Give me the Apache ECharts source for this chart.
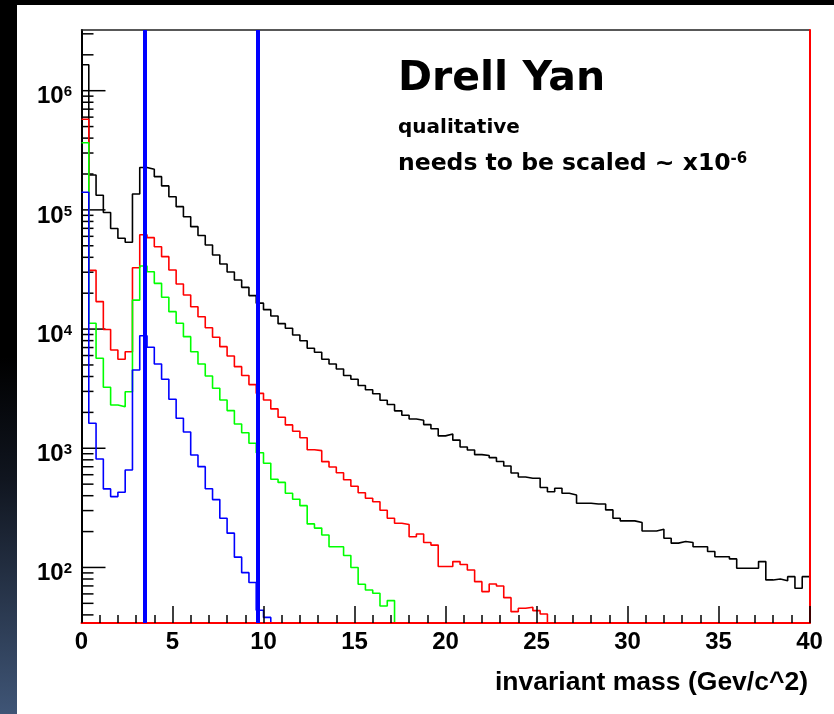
<!DOCTYPE html>
<html>
<head>
<meta charset="utf-8">
<script src="https://cdn.jsdelivr.net/npm/echarts@6/dist/echarts.min.js"></script>
<style>
html,body{margin:0;padding:0;width:834px;height:714px;overflow:hidden;
  background:linear-gradient(to bottom,#000 0%,#000 50%,#10151f 67%,#3f5576 100%);}
#frame{position:absolute;left:17px;top:5px;width:817px;height:709px;background:#fff;}
#c{width:817px;height:709px;}
</style>
</head>
<body>
<div id="frame"><div id="c"></div></div>
<script>
// ---------- data (counts per bin, 100 bins of 0.4 between 0 and 40) ----------
const nBins = 100;
const binWidth = 0.4;
const xMin = 0, xMax = 40;
const yMin = 34.2, yMax = 3.23e6;
const cutLines = [3.48, 9.67];

const blackCounts = [
  1.65e6, 1.96e5, 1.326e5, 9.51e4, 6.98e4, 5.78e4, 5.35e4, 1.36e5, 2.27e5, 2.19e5,
  1.90e5, 1.59e5, 1.29e5, 1.064e5, 8.77e4, 7.23e4, 6.10e4, 5.08e4, 4.18e4, 3.52e4,
  3.01e4, 2.58e4, 2.24e4, 1.91e4, 1.65e4, 1.455e4, 1.288e4, 1.110e4, 1.016e4, 8920,
  7990, 6900, 6390, 5580, 5100, 4630, 4080, 3790, 3360, 3100,
  2870, 2530, 2330, 2060, 1890, 1760, 1720, 1580, 1460, 1270,
  1320, 1170, 1025, 968, 884, 870, 834, 775, 710, 621,
  574, 560, 560, 469, 432, 462, 419, 406, 346, 346,
  341, 341, 304, 259, 246, 246, 238, 202, 202, 209,
  176, 160, 165, 162, 149, 149, 136, 123, 123, 118,
  98.5, 98.5, 98.5, 112, 78.6, 80.1, 77.5, 83.7, 66.9, 83.7
];
// bins after the listed ones are empty
const redCounts = [
  5.76e5, 3.11e4, 1.70e4, 9920, 6680, 5580, 6460, 3.27e4, 6.19e4, 5.85e4,
  4.91e4, 4.05e4, 3.13e4, 2.39e4, 1.93e4, 1.54e4, 1.27e4, 1.027e4, 8540, 7120,
  5950, 4840, 4080, 3420, 2890, 2540, 2140, 1820, 1570, 1390,
  1227, 973, 955, 772, 697, 623, 545, 480, 423, 381,
  356, 302, 259, 235, 229, 181, 191, 162, 154, 102,
  102, 112, 106, 95.3, 76.0, 62.7, 72.7, 69.9, 55.8, 42.6,
  45.5, 46.4, 43.4, 40.7
];
const greenCounts = [
  3.66e5, 1.119e4, 5690, 3250, 2310, 2230, 2980, 1.75e4, 3.38e4, 3.03e4,
  2.42e4, 1.85e4, 1.40e4, 1.119e4, 8640, 6460, 5100, 4040, 3190, 2540,
  2070, 1600, 1350, 1101, 917, 749, 549, 517, 419, 373,
  330, 232, 214, 187, 149, 149, 126, 100, 72.3, 64.7,
  60.8, 47.5, 52.7
];
const blueCounts = [
  1.405e5, 1620, 813, 456, 393, 428, 658, 4540, 8800, 7040,
  5100, 3790, 2580, 1785, 1370, 879, 701, 458, 371, 259,
  194, 122, 90.5, 74.8, 43.7, 38.1
];
const xTickLabels = ['0','5','10','15','20','25','30','35','40'];

// ---------- helpers ----------
const FONT = '"Liberation Sans", Arial, Helvetica, sans-serif';
function histData(counts) {
  const pts = [];
  for (let i = 0; i < nBins; i++) {
    const c = i < counts.length ? counts[i] : 0;
    pts.push([xMin + i * binWidth, c > 0 ? c : yMin]);
  }
  pts.push([xMax, pts[pts.length - 1][1]]);
  return pts;
}
// y tick positions generated from the log axis decades
const yTicks = [];
for (let n = 1; n <= 6; n++) {
  for (let k = 1; k <= 9; k++) {
    const v = k * Math.pow(10, n);
    if (v >= yMin && v <= yMax) yTicks.push([xMin, v, k === 1 ? 1 : 0]);
  }
}

function histSeries(name, counts, color) {
  return {
    name, type: 'line', data: histData(counts), step: 'end',
    showSymbol: false, symbol: 'none', clip: true,
    lineStyle: { color, width: 1.6 }, itemStyle: { color },
    animation: false, silent: true
  };
}

const chart = echarts.init(document.getElementById('c'), null, { width: 817, height: 709 });
chart.setOption({
  backgroundColor: '#fff',
  animation: false,
  grid: { left: 64.5, right: 24.5, top: 25, bottom: 91, containLabel: false },
  xAxis: [{
    type: 'value', min: xMin, max: xMax, interval: 5, position: 'bottom', z: 4,
    axisLine: { show: true, onZero: false, lineStyle: { color: '#ff0000', width: 2 } },
    axisTick: { show: true, inside: true, length: 17, lineStyle: { color: '#000', width: 1.5 } },
    minorTick: { show: true, splitNumber: 5, length: 8, lineStyle: { color: '#000', width: 1.5 } },
    axisLabel: {
      margin: 7, fontSize: 24, fontWeight: 'bold', fontFamily: FONT, color: '#000',
      formatter: v => xTickLabels[Math.round(v / 5)] ?? ''
    },
    splitLine: { show: false }
  }, {
    type: 'value', min: xMin, max: xMax, position: 'top',
    axisLine: { show: true, onZero: false, lineStyle: { color: '#222', width: 1.5 } },
    axisTick: { show: false }, axisLabel: { show: false }, splitLine: { show: false }
  }],
  yAxis: [{
    type: 'log', logBase: 10, min: yMin, max: yMax, position: 'left',
    axisLine: { show: true, onZero: false, lineStyle: { color: '#000', width: 2 } },
    axisTick: { show: false },
    axisLabel: {
      margin: 9.5, padding: [12, 0, 0, 0],
      formatter: function (v) {
        const e = Math.log10(v), r = Math.round(e);
        if (Math.abs(e - r) > 1e-6) return '';
        return '{b|10}{s|' + r + '}';
      },
      rich: {
        b: { fontSize: 24, fontWeight: 'bold', fontFamily: FONT, color: '#000' },
        s: { fontSize: 15, fontWeight: 'bold', fontFamily: FONT, color: '#000', verticalAlign: 'top' }
      }
    },
    splitLine: { show: false }
  }, {
    type: 'log', logBase: 10, min: yMin, max: yMax, position: 'right', z: 4,
    axisLine: { show: true, onZero: false, lineStyle: { color: '#ff0000', width: 2 } },
    axisTick: { show: false }, axisLabel: { show: false }, splitLine: { show: false }
  }],
  series: [
    {
      type: 'custom', name: 'yticks', data: yTicks, encode: { x: 0, y: 1 },
      clip: false, silent: true, z: 1,
      renderItem: function (params, api) {
        const p = api.coord([api.value(0), api.value(1)]);
        const len = api.value(2) ? 24 : 12;
        return { type: 'line', shape: { x1: p[0], y1: p[1], x2: p[0] + len, y2: p[1] },
                 style: { stroke: '#000', lineWidth: 1.5 } };
      }
    },
    histSeries('all', blackCounts, '#000000'),
    histSeries('red', redCounts, '#ff0000'),
    histSeries('green', greenCounts, '#00ff00'),
    histSeries('blue', blueCounts, '#0000ff'),
    {
      type: 'line', name: 'cuts', data: [], z: 10, silent: true,
      markLine: {
        silent: true, symbol: 'none', animation: false,
        label: { show: false },
        lineStyle: { color: '#0000ff', width: 4, type: 'solid' },
        data: cutLines.map(v => ({ xAxis: v }))
      }
    }
  ],
  graphic: [
    { type: 'text', x: 381, y: 74, z: 100, silent: true,
      style: { text: 'Drell Yan', font: 'bold 41px "DejaVu Sans", sans-serif', fill: '#000', textVerticalAlign: 'middle' } },
    { type: 'text', x: 381, y: 122.5, z: 100, silent: true,
      style: { text: 'qualitative', font: 'bold 20px "DejaVu Sans", sans-serif', fill: '#000', textVerticalAlign: 'middle' } },
    { type: 'text', x: 381, y: 159, z: 100, silent: true,
      style: {
        text: '{n|needs to be scaled ~ x10}{s|-6}', textVerticalAlign: 'middle',
        rich: {
          n: { font: 'bold 23.5px "DejaVu Sans", sans-serif', fill: '#000', color: '#000' },
          s: { font: 'bold 15px "DejaVu Sans", sans-serif', fill: '#000', color: '#000', verticalAlign: 'top' }
        }
      } },
    { type: 'text', x: 791, y: 678, z: 100, silent: true,
      style: { text: 'invariant mass (Gev/c^2)', font: 'bold 26.5px "Liberation Sans", Arial, sans-serif', fill: '#000',
               textAlign: 'right', textVerticalAlign: 'middle' } }
  ]
});
</script>
</body>
</html>
